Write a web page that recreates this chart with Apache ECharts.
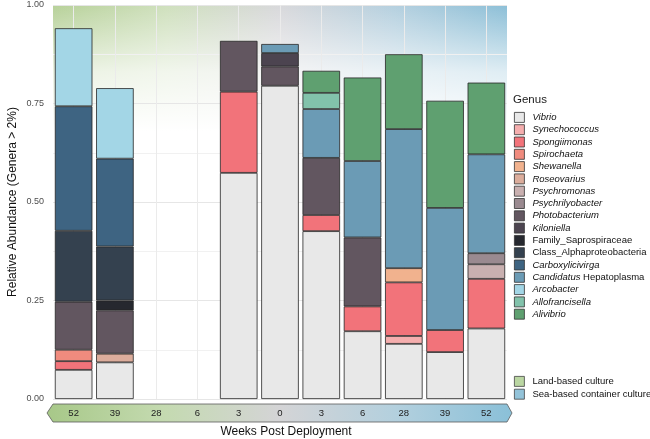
<!DOCTYPE html>
<html><head><meta charset="utf-8">
<script src="https://cdn.jsdelivr.net/npm/echarts@6/dist/echarts.min.js"></script>
<style>html,body{margin:0;padding:0;background:#fff}#c{width:650px;height:439px}</style>
</head><body><div id="c"></div>
<script>
// ---- data ----
const categories = ['L52','L39','L28','L6','L3','S0','S3','S6','S28','S39','S52'];
const tickLabels = ['52','39','28','6','3','0','3','6','28','39','52'];
const yTicks = [0, 0.25, 0.5, 0.75, 1];

const vibrio            = [0.074, 0.093, null, null, 0.574, 0.795, 0.426, 0.172, 0.140, 0.119, 0.179];
const synechococcus     = [null, null, null, null, null, null, null, null, 0.020, null, null];
const spongiimonas      = [0.022, null, null, null, 0.206, null, 0.041, 0.063, 0.136, 0.056, 0.126];
const spirochaeta       = [0.029, null, null, null, null, null, null, null, null, null, null];
const shewanella        = [null, null, null, null, null, null, null, null, 0.036, null, null];
const roseovarius       = [null, 0.022, null, null, null, null, null, null, null, null, null];
const psychromonas      = [null, null, null, null, null, null, null, null, null, null, 0.037];
const psychrilyobacter  = [null, null, null, null, null, null, null, null, null, null, 0.028];
const photobacterium    = [0.122, 0.110, null, null, 0.129, 0.049, 0.145, 0.175, null, null, null];
const kiloniella        = [null, null, null, null, null, 0.034, null, null, null, null, null];
const saprospiraceae    = [null, 0.025, null, null, null, null, null, null, null, null, null];
const alphaproteo       = [0.180, 0.137, null, null, null, null, null, null, null, null, null];
const carboxylicivirga  = [0.316, 0.223, null, null, null, null, null, null, null, null, null];
const hepatoplasma      = [null, null, null, null, null, 0.023, 0.124, 0.194, 0.353, 0.310, 0.251];
const arcobacter        = [0.198, 0.179, null, null, null, null, null, null, null, null, null];
const allofrancisella   = [null, null, null, null, null, null, 0.041, null, null, null, null];
const alivibrio         = [null, null, null, null, null, null, 0.056, 0.212, 0.190, 0.272, 0.182];

const genusNames = ['Vibrio','Synechococcus','Spongiimonas','Spirochaeta','Shewanella','Roseovarius',
  'Psychromonas','Psychrilyobacter','Photobacterium','Kiloniella','Family_Saprospiraceae',
  'Class_Alphaproteobacteria','Carboxylicivirga','Candidatus Hepatoplasma','Arcobacter',
  'Allofrancisella','Alivibrio'];
const genusValues = [vibrio, synechococcus, spongiimonas, spirochaeta, shewanella, roseovarius,
  psychromonas, psychrilyobacter, photobacterium, kiloniella, saprospiraceae, alphaproteo,
  carboxylicivirga, hepatoplasma, arcobacter, allofrancisella, alivibrio];
const genusColors = ['#e8e8e8','#f5aeae','#f2737a','#f08b7e','#f1b28e','#dcad9c','#c9b0b0',
  '#9a8a90','#625660','#4c4450','#26282f','#34414f','#3e6482','#6b9bb5','#a3d6e6','#82c2ab','#5fa070'];
const cultureNames = ['Land-based culture','Sea-based container culture'];
const cultureColors = ['#bad6a2','#93c3d9'];

// ---- layout ----
const G = {left: 53, top: 5, right: 143, bottom: 40};
const W = 650, H = 439;
const gx0 = G.left, gx1 = W - G.right, gy0 = G.top, gy1 = H - G.bottom;

const nonItalic = ['Family_Saprospiraceae','Class_Alphaproteobacteria'];
function legendFmt(name) {
  if (name === 'Candidatus Hepatoplasma') return '{i|Candidatus} Hepatoplasma';
  if (nonItalic.indexOf(name) >= 0 || cultureNames.indexOf(name) >= 0) return name;
  return '{i|' + name + '}';
}

const series = genusNames.map((n, k) => ({
  name: n, type: 'bar', stack: 'total', barWidth: '91%', z: 2,
  data: genusValues[k],
  itemStyle: {color: genusColors[k], borderColor: '#262626', borderWidth: 0.8},
  emphasis: {disabled: true}
}));
// vertical grid lines at category centres
series[0].markLine = {
  silent: true, z: 1, symbol: ['none', 'none'], animation: false,
  label: {show: false}, emphasis: {disabled: true},
  lineStyle: {color: '#ebebeb', width: 1, type: 'solid'},
  data: categories.map(c => ({xAxis: c}))
};
cultureNames.forEach((n, k) => series.push({
  name: n, type: 'bar', stack: 'total', data: [],
  itemStyle: {color: cultureColors[k], borderColor: '#444', borderWidth: 0.8}
}));

const font = 'Liberation Sans, Arial, Helvetica, sans-serif';
const chart = echarts.init(document.getElementById('c'), null, {renderer: 'canvas'});
chart.setOption({
  animation: false,
  textStyle: {fontFamily: font},
  title: {text: 'Genus', left: 513, top: 94, padding: 0,
    textStyle: {fontSize: 11.5, fontWeight: 'normal', color: '#1a1a1a', fontFamily: font}},
  grid: {left: G.left, top: G.top, right: G.right, bottom: G.bottom,
    containLabel: false, outerBoundsMode: 'none'},
  graphic: [
    {type: 'rect', z: -5, silent: true,
      shape: {x: gx0, y: gy0, width: gx1 - gx0, height: gy1 - gy0},
      style: {fill: new echarts.graphic.LinearGradient(0, 0, 1, 0, [
        {offset: 0, color: '#b7d199'}, {offset: 0.25, color: '#cfe0bd'},
        {offset: 0.5, color: '#d8d8db'}, {offset: 0.75, color: '#b5d0df'},
        {offset: 1, color: '#8cbfd7'}])}},
    {type: 'rect', z: -4, silent: true,
      shape: {x: gx0, y: gy0, width: gx1 - gx0, height: gy1 - gy0},
      style: {fill: new echarts.graphic.LinearGradient(0, 0, 0, 1, [
        {offset: 0, color: 'rgba(255,255,255,0)'}, {offset: 0.06, color: 'rgba(255,255,255,0.25)'},
        {offset: 0.17, color: 'rgba(255,255,255,0.72)'}, {offset: 0.32, color: 'rgba(255,255,255,1)'},
        {offset: 1, color: 'rgba(255,255,255,1)'}])}},
    {type: 'polygon', z: -3, silent: true,
      shape: {points: [[gx0 - 6, 413], [gx0, 404], [gx1, 404], [gx1 + 5, 413], [gx1, 422], [gx0, 422]]},
      style: {stroke: '#5c5c5c', lineWidth: 0.8,
        fill: new echarts.graphic.LinearGradient(0, 0, 1, 0, [
          {offset: 0, color: '#a7c888'}, {offset: 0.25, color: '#c4dab0'},
          {offset: 0.5, color: '#d4d4d6'}, {offset: 0.75, color: '#b3d0de'},
          {offset: 1, color: '#8ac0d8'}])}}
  ],
  legend: [
    {data: genusNames, orient: 'vertical', left: 514, top: 112, padding: 0,
      itemWidth: 10, itemHeight: 10, itemGap: 1.5, icon: 'rect', selectedMode: false,
      itemStyle: {borderColor: '#333', borderWidth: 0.8},
      formatter: legendFmt,
      textStyle: {fontSize: 9.5, color: '#111', padding: [0, 0, 0, 3], fontFamily: font,
        rich: {i: {fontStyle: 'italic', fontSize: 9.5, color: '#111', fontFamily: font}}}},
    {data: cultureNames, orient: 'vertical', left: 514, top: 376, padding: 0,
      itemWidth: 10, itemHeight: 10, itemGap: 2, icon: 'rect', selectedMode: false,
      itemStyle: {borderColor: '#444', borderWidth: 0.8},
      textStyle: {fontSize: 9.5, color: '#111', padding: [0, 0, 0, 3], fontFamily: font}}
  ],
  xAxis: {
    type: 'category', data: categories, z: 1,
    axisLine: {show: false}, axisTick: {show: false},
    axisLabel: {margin: 9, fontSize: 9.5, color: '#222', fontFamily: font,
      formatter: (v, i) => tickLabels[i]},
    splitLine: {show: false},
    name: 'Weeks Post Deployment', nameLocation: 'middle', nameGap: 27, nameMoveOverlap: false,
    nameTextStyle: {fontSize: 12, color: '#111', fontFamily: font, padding: [0, 0, 0, 12]}
  },
  yAxis: {
    type: 'value', min: 0, max: 1, interval: 0.25, z: 1,
    axisLine: {show: false}, axisTick: {show: false},
    axisLabel: {margin: 9, fontSize: 9, color: '#4d4d4d', fontFamily: font,
      formatter: v => (yTicks.indexOf(v) >= 0 ? v.toFixed(2) : '')},
    splitLine: {show: true, lineStyle: {color: '#e6e6e6', width: 1}},
    minorTick: {show: false, splitNumber: 2},
    minorSplitLine: {show: true, lineStyle: {color: '#f1f1f1', width: 1}},
    name: 'Relative Abundance (Genera > 2%)', nameLocation: 'middle', nameGap: 34, nameMoveOverlap: false,
    nameTextStyle: {fontSize: 12, color: '#111', fontFamily: font}
  },
  series: series
});
</script></body></html>
